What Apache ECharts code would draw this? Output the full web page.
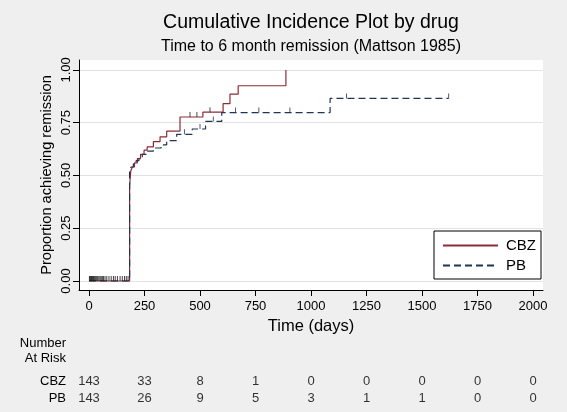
<!DOCTYPE html>
<html><head><meta charset="utf-8">
<script src="https://cdn.jsdelivr.net/npm/echarts@6/dist/echarts.min.js"></script>
<style>html,body{margin:0;padding:0;background:#efefef}#c{width:567px;height:412px}</style>
</head><body><div id="c"></div>
<script>
// ---- data ----
const xTicks = [0, 250, 500, 750, 1000, 1250, 1500, 1750, 2000];
const yTicks = [0, 0.25, 0.5, 0.75, 1];
const seriesNames = ['CBZ', 'PB'];

// cumulative incidence step functions (time in days, proportion after the step)
const cbzTime = [0, 183, 188, 195, 205, 218, 232, 248, 262, 290, 320, 350, 410, 513, 604, 635, 672, 887];
const cbzCI   = [0, 0.45, 0.52, 0.54, 0.56, 0.58, 0.60, 0.62, 0.635, 0.66, 0.683, 0.71, 0.777, 0.80, 0.84, 0.885, 0.925, 1.0];
const pbTime  = [0, 183, 190, 200, 212, 225, 240, 258, 290, 325, 350, 395, 465, 525, 598, 1086, 1620];
const pbCI    = [0, 0.53, 0.54, 0.555, 0.57, 0.585, 0.60, 0.615, 0.63, 0.645, 0.665, 0.695, 0.72, 0.756, 0.798, 0.865, 0.865];

// censoring marks
const zeroCensorTime = [2, 5, 8, 11, 14, 17, 20, 24, 28, 32, 36, 40, 45, 50, 55, 60, 65, 72, 80, 90, 100, 110, 118, 128, 140, 150, 160, 168, 176];
const cbzCensorTime = [455, 486, 545];
const cbzCensorCI   = [0.777, 0.777, 0.80];
const pbCensorTime  = [430, 500, 560, 660, 765, 905, 1160, 1620];
const pbCensorCI    = [0.695, 0.72, 0.756, 0.798, 0.798, 0.798, 0.865, 0.865];

// number at risk table
const riskTimes = [0, 250, 500, 750, 1000, 1250, 1500, 1750, 2000];
const cbzAtRisk = [143, 33, 8, 1, 0, 0, 0, 0, 0];
const pbAtRisk  = [143, 26, 9, 5, 3, 1, 1, 0, 0];

// ---- chart ----
const FONT = '"Liberation Sans", Arial, sans-serif';
const zip = (a, b) => a.map((v, i) => [v, b[i]]);
const cbzColor = '#8c2d35', pbColor = '#1f3552';

const chart = echarts.init(document.getElementById('c'), null, {renderer: 'canvas'});
const riskData = [];
riskTimes.forEach((t, i) => {
  riskData.push([t, 'CBZ', cbzAtRisk[i]]);
  riskData.push([t, 'PB', pbAtRisk[i]]);
});

chart.setOption({
  backgroundColor: '#efefef',
  animation: false,
  textStyle: {fontFamily: FONT, color: '#000'},
  title: {
    text: 'Cumulative Incidence Plot by drug',
    subtext: 'Time to 6 month remission (Mattson 1985)',
    left: 311, textAlign: 'center', top: 13, padding: 0, itemGap: 6,
    textStyle: {fontSize: 19.5, fontWeight: 'normal', color: '#000', fontFamily: FONT},
    subtextStyle: {fontSize: 16, color: '#000', fontFamily: FONT}
  },
  legend: {
    data: seriesNames,
    orient: 'vertical', left: 434, top: 231,
    padding: [7, 5, 6, 8], itemGap: 5, itemWidth: 55, itemHeight: 14,
    backgroundColor: '#fff', borderColor: '#000', borderWidth: 1, borderRadius: 0,
    itemStyle: {color: 'rgba(0,0,0,0)', borderWidth: 0, opacity: 0},
    textStyle: {fontSize: 15, color: '#000', fontFamily: FONT, padding: [0, 0, 0, 3]}
  },
  grid: [
    {left: 79, right: 24, top: 60, bottom: 122, show: true, backgroundColor: '#fff', borderWidth: 0, outerBoundsMode: 'none'},
    {left: 79, right: 24, top: 373, height: 34, outerBoundsMode: 'none'}
  ],
  xAxis: [
    {
      type: 'value', gridIndex: 0, min: -45, max: 2045,
      axisLine: {show: true, onZero: false, lineStyle: {color: '#000', width: 1}},
      axisTick: {show: true, customValues: xTicks, length: 6, lineStyle: {color: '#000'}},
      axisLabel: {customValues: xTicks, fontSize: 13, color: '#000', margin: 10, fontFamily: FONT,
                  formatter: v => String(v)},
      splitLine: {show: false},
      name: 'Time (days)', nameLocation: 'middle', nameGap: 27,
      nameTextStyle: {fontSize: 16.5, color: '#000', fontFamily: FONT}
    },
    {type: 'value', gridIndex: 1, min: -45, max: 2045, show: false}
  ],
  yAxis: [
    {
      type: 'value', gridIndex: 0, min: -0.0427, max: 1.047,
      axisLine: {show: true, onZero: false, lineStyle: {color: '#000', width: 1}},
      axisTick: {show: true, customValues: yTicks, length: 6, lineStyle: {color: '#000'}},
      axisLabel: {customValues: yTicks, rotate: 90, fontSize: 13, color: '#000', margin: 6,
                  fontFamily: FONT, formatter: v => v.toFixed(2)},
      splitLine: {show: true, lineStyle: {color: '#e2e2e2', width: 1}},
      name: 'Proportion achieving remission', nameLocation: 'middle', nameGap: 25, nameRotate: 90,
      nameMoveOverlap: false,
      nameTextStyle: {fontSize: 14.6, color: '#000', fontFamily: FONT}
    },
    {
      type: 'category', gridIndex: 1, data: ['PB', 'CBZ'],
      axisLine: {show: false}, axisTick: {show: false}, splitLine: {show: false},
      axisLabel: {fontSize: 13, color: '#000', margin: 13, fontFamily: FONT}
    }
  ],
  series: [
    {
      name: 'CBZ', type: 'line', step: 'end', data: zip(cbzTime, cbzCI),
      symbol: 'none', z: 3, color: cbzColor,
      lineStyle: {color: cbzColor, width: 1.2}
    },
    {
      name: 'PB', type: 'line', step: 'end', data: zip(pbTime, pbCI),
      symbol: 'none', z: 4, color: pbColor,
      lineStyle: {color: pbColor, width: 1.2, type: [7, 4]}
    },
    {
      name: 'censor0', type: 'scatter', data: zeroCensorTime.map(t => [t, 0]),
      symbol: 'rect', symbolSize: [1, 5], symbolOffset: [0, -2.5], z: 5,
      itemStyle: {color: '#111'}, silent: true
    },
    {
      name: 'censorCBZ', type: 'scatter', data: zip(cbzCensorTime, cbzCensorCI),
      symbol: 'rect', symbolSize: [1, 5], symbolOffset: [0, -2.5], z: 5,
      itemStyle: {color: '#222'}, silent: true
    },
    {
      name: 'censorPB', type: 'scatter', data: zip(pbCensorTime, pbCensorCI),
      symbol: 'rect', symbolSize: [1, 5], symbolOffset: [0, -2.5], z: 5,
      itemStyle: {color: pbColor}, silent: true
    },
    {
      name: 'risk', type: 'scatter', xAxisIndex: 1, yAxisIndex: 1, data: riskData,
      symbolSize: 0, silent: true,
      label: {show: true, position: 'inside', formatter: p => String(p.value[2]),
              fontSize: 13, color: '#000', fontFamily: FONT}
    }
  ],
  graphic: [
    {type: 'text', x: 66, y: 336, silent: true,
     style: {text: 'Number\nAt Risk', textAlign: 'right', font: '13px ' + FONT, lineHeight: 15, fill: '#000'}}
  ]
});
</script></body></html>
